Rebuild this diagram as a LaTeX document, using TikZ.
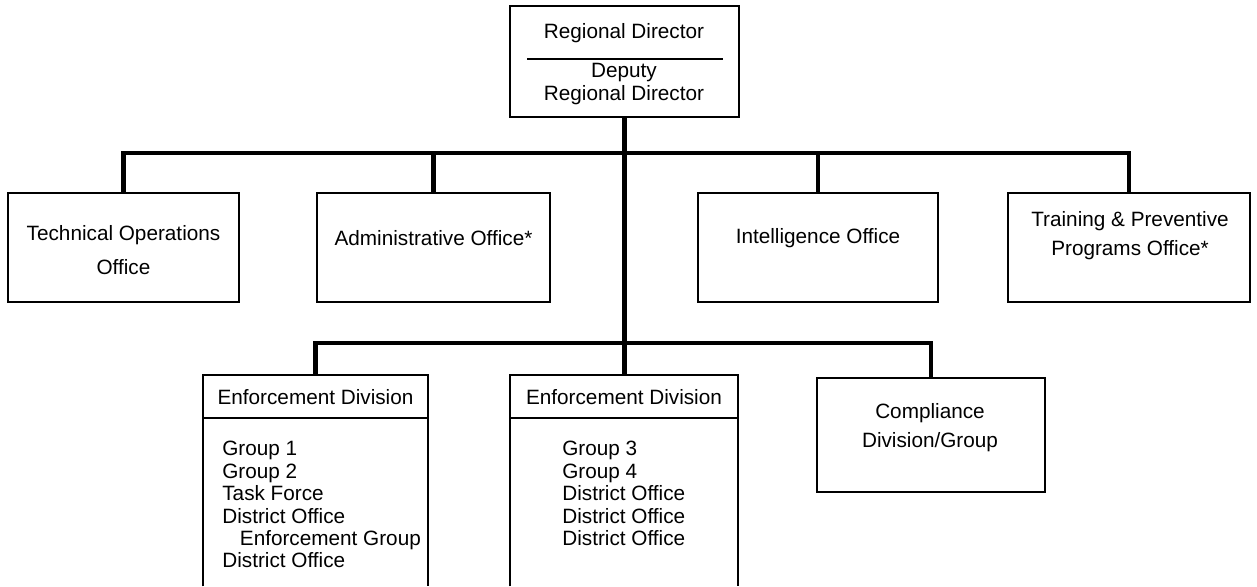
\documentclass[tikz,border=0pt]{standalone}
\usepackage{fontspec}
\setmainfont{Liberation Sans}
\usepackage{tikz}
\usetikzlibrary{positioning}
\tikzset{
	orgbox/.style={draw, line width=1.2pt, inner sep=0pt},
	orgtext/.style={inner sep=0pt, align=center, font=\fontsize{11.8}{12.75}\selectfont},
	orglist/.style={inner sep=0pt, align=left, anchor=north west, font=\fontsize{11.8}{12.75}\selectfont},
	orgline/.style={line width=2.4pt},
}

\begin{document}
\begin{tikzpicture}[x=0.02cm, y=-0.02cm]
	\useasboundingbox (0,0) rectangle (1257,586);

	% top box
	\node[orgbox, minimum width=4.58cm, minimum height=2.22cm] (director) at (624.5,61.5) {};
	\node[orgtext] (dirtitle) at (624,33) {Regional Director};
	\node[orgtext] (dirdeputy) at (624,84) {Deputy\\Regional Director};
	\draw[line width=1.2pt] (527,59) -- (723,59);

	% staff offices
	\node[orgbox, minimum width=4.62cm, minimum height=2.18cm] (tech) at (123.5,247.5) {};
	\node[orgbox, minimum width=4.66cm, minimum height=2.18cm] (admin) at (433.5,247.5) {};
	\node[orgbox, minimum width=4.8cm, minimum height=2.18cm] (intel) at (818,247.5) {};
	\node[orgbox, minimum width=4.84cm, minimum height=2.18cm] (train) at (1129,247.5) {};
	\node[orgtext] (techtext) at (123.5,250) {Technical Operations\\[7pt]Office};
	\node[orgtext] (admintext) at (433.5,238) {Administrative Office*};
	\node[orgtext] (inteltext) at (818,238) {Intelligence Office};
	\node[orgtext] (traintext) at (1130,235.5) {Training \& Preventive\\[4pt]Programs Office*};

	% divisions
	\node[minimum width=4.5cm, minimum height=4.22cm, inner sep=0pt] (enfa) at (315.5,480.5) {};
	\node[minimum width=4.56cm, minimum height=4.22cm, inner sep=0pt] (enfb) at (624,480.5) {};
	\draw[line width=1.2pt] (enfa.south west) -- (enfa.north west) -- (enfa.north east) -- (enfa.south east);
	\draw[line width=1.2pt] (enfb.south west) -- (enfb.north west) -- (enfb.north east) -- (enfb.south east);
	\draw[line width=1.2pt] (enfa.west |- 0,418) -- (enfa.east |- 0,418);
	\draw[line width=1.2pt] (enfb.west |- 0,418) -- (enfb.east |- 0,418);
	\node[orgtext] (enfahead) at (315.5,397) {Enforcement Division};
	\node[orgtext] (enfbhead) at (624,397) {Enforcement Division};
	\node[orglist] (enfalist) at (222,441) {Group 1\\Group 2\\Task Force\\District Office\\\hspace*{10pt}Enforcement Group\\District Office};
	\node[orglist] (enfblist) at (562,441) {Group 3\\Group 4\\District Office\\District Office\\District Office};
	\node[orgbox, minimum width=4.56cm, minimum height=2.28cm] (comp) at (931,435) {};
	\node[orgtext] (comptext) at (930,427.5) {Compliance\\[4pt]Division/Group};

	% connectors
	\coordinate (upbar) at (624,153);
	\coordinate (lowbar) at (624,343);
	\draw[orgline] (tech.north) -- (tech.north |- upbar) -- (train.north |- upbar) -- (train.north);
	\draw[orgline] (admin.north) -- (admin.north |- upbar);
	\draw[orgline] (intel.north) -- (intel.north |- upbar);
	\draw[orgline] (director.south) -- (director.south |- enfb.north);
	\draw[orgline] (enfa.north) -- (enfa.north |- lowbar) -- (comp.north |- lowbar) -- (comp.north);
\end{tikzpicture}
\end{document}
